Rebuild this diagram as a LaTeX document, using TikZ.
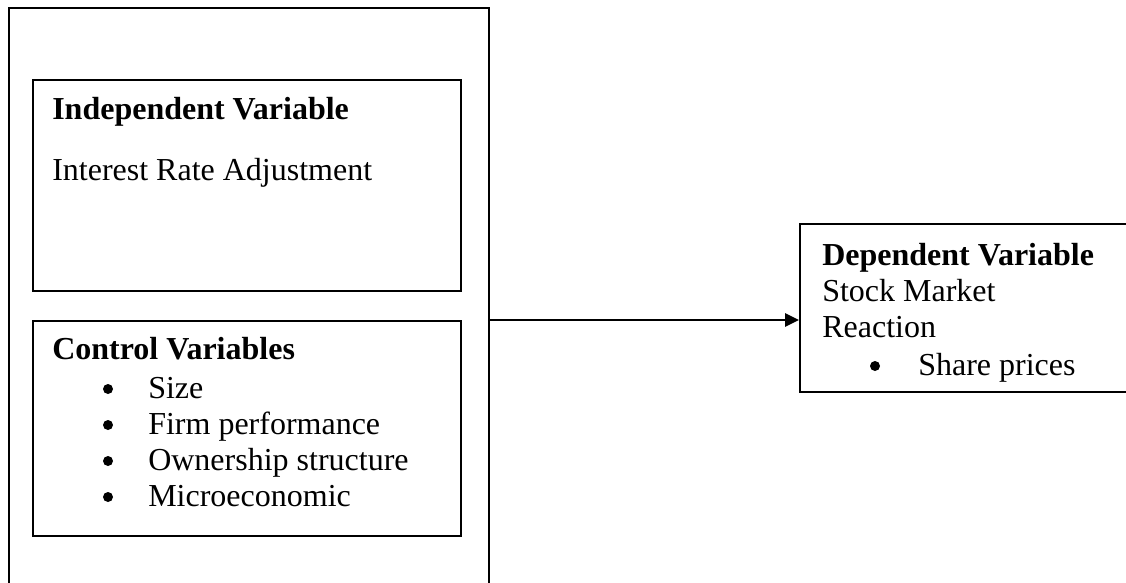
\documentclass[tikz,border=0pt]{standalone}
\usepackage{fontspec}
\setmainfont{Liberation Serif}
\usetikzlibrary{fit,arrows.meta}
\begin{document}
\begin{tikzpicture}[x=0.75pt,y=-0.75pt,
  box/.style={draw,line width=1.5pt,inner sep=0pt,rectangle},
  txt/.style={anchor=base west,inner sep=0pt,font=\fontsize{24}{27}\selectfont},
  btxt/.style={txt,font=\fontsize{24}{27}\selectfont\bfseries},
  bul/.style={circle,fill=black,inner sep=0pt,minimum size=7.5pt},
  conn/.style={line width=1.5pt,-{Triangle[length=10.5pt,width=10pt]}}]
\useasboundingbox (0,0) rectangle (1126,582);
\clip (0,0) rectangle (1126,582);
% corner coordinates
\coordinate (o1) at (9,8);    \coordinate (o2) at (489,620);
\coordinate (i1) at (33,80);  \coordinate (i2) at (461,291);
\coordinate (c1) at (33,321); \coordinate (c2) at (461,536);
\coordinate (d1) at (800,224);\coordinate (d2) at (1140,392);
\coordinate (ay) at (0,320);
% boxes
\node[box,fit=(o1)(o2)] (outer) {};
\node[box,fit=(i1)(i2)] (indep) {};
\node[box,fit=(c1)(c2)] (ctrl) {};
\node[box,fit=(d1)(d2)] (dep) {};
% texts
\node[btxt] (t1) at (52,119) {Independent Variable};
\node[txt] (t2) at (52,180) {Interest Rate Adjustment};
\node[btxt] (t3) at (52,359) {Control Variables};
\node[bul] (b1) at (108,389) {};
\node[txt] (s1) at (148,398) {Size};
\node[bul] (b2) at (108,425) {};
\node[txt] (s2) at (148,434) {Firm performance};
\node[bul] (b3) at (108,461) {};
\node[txt] (s3) at (148,470) {Ownership structure};
\node[bul] (b4) at (108,497) {};
\node[txt] (s4) at (148,506) {Microeconomic};
\node[btxt] (d1t) at (822,265) {Dependent Variable};
\node[txt] (d2t) at (822,301) {Stock Market};
\node[txt] (d3t) at (822,337) {Reaction};
\node[bul] (b5) at (875,366) {};
\node[txt] (d4t) at (918,375) {Share prices};
% connector
\draw[conn] (outer.east |- ay) -- (dep.west |- ay);
\end{tikzpicture}
\end{document}
